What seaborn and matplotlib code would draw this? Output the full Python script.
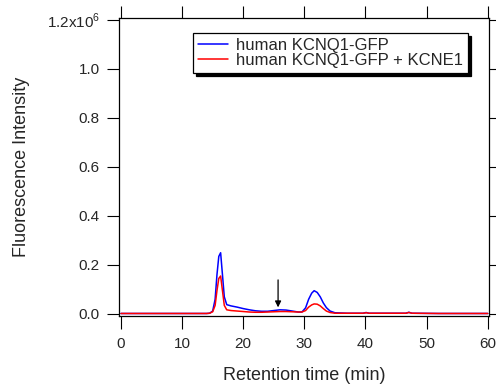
import pandas as pd
import matplotlib
matplotlib.use("Agg")
import matplotlib.pyplot as plt
import seaborn as sns

# retention time (min) and fluorescence (x1e6)
time_min = [0, 5, 10, 13, 14, 14.5, 15.0, 15.4, 15.7, 16.0, 16.3, 16.6, 16.9, 17.3,
            18, 19, 20, 21, 22, 23, 24, 25, 26, 27, 28, 29, 29.6, 30.2,
            30.7, 31.2, 31.6, 32.1, 32.6, 33.1, 33.6, 34.2, 35, 37, 39.6, 40.1,
            40.6, 46.6, 47.1, 47.6, 52, 56, 60]
kcnq1 = [0.002, 0.002, 0.002, 0.002, 0.002, 0.003, 0.012, 0.06, 0.16, 0.235, 0.25, 0.16,
         0.07, 0.038, 0.033, 0.028, 0.022, 0.017, 0.013, 0.011, 0.011, 0.014, 0.017,
         0.016, 0.012, 0.008, 0.008, 0.025, 0.06, 0.085, 0.095, 0.088, 0.07, 0.045,
         0.026, 0.012, 0.005, 0.003, 0.003, 0.006, 0.003, 0.003, 0.007, 0.003,
         0.002, 0.002, 0.002]
kcnq1_kcne1 = [0.002, 0.002, 0.002, 0.002, 0.002, 0.003, 0.009, 0.035, 0.095, 0.145, 0.155,
               0.095, 0.035, 0.017, 0.014, 0.012, 0.010, 0.008, 0.007, 0.007, 0.008, 0.009,
               0.010, 0.010, 0.009, 0.008, 0.008, 0.014, 0.028, 0.037, 0.041, 0.040, 0.033,
               0.022, 0.012, 0.006, 0.003, 0.003, 0.003, 0.005, 0.003, 0.003, 0.006,
               0.003, 0.002, 0.002, 0.002]
labels = ["human KCNQ1-GFP", "human KCNQ1-GFP + KCNE1"]
y_ticks = [0.0, 0.2, 0.4, 0.6, 0.8, 1.0, 1.2]
y_ticklabels = ["0.0", "0.2", "0.4", "0.6", "0.8", "1.0", r"1.2x10$^6$"]
x_ticks = [0, 10, 20, 30, 40, 50, 60]
arrow_at = 25.7

df = pd.concat([
    pd.DataFrame({"t": time_min, "y": [v * 1e6 for v in kcnq1], "sample": labels[0]}),
    pd.DataFrame({"t": time_min, "y": [v * 1e6 for v in kcnq1_kcne1], "sample": labels[1]}),
], ignore_index=True)

sns.set_style("ticks")
plt.rcParams["font.family"] = ["Liberation Sans", "DejaVu Sans"]
plt.rcParams["mathtext.fontset"] = "custom"
plt.rcParams["mathtext.rm"] = "Liberation Sans"

fig = plt.figure(figsize=(4.96, 3.87), dpi=100)
ax = fig.add_axes([0.2405, 0.1835, 0.7454, 0.770])

sns.lineplot(data=df, x="t", y="y", hue="sample", palette=["#0000ff", "#ff0000"],
             linewidth=1.1, ax=ax, estimator=None, sort=False)

ax.set_xlim(-0.28, 60.21)
ax.set_ylim(-0.0082e6, 1.2082e6)
ax.set_xticks(x_ticks)
ax.set_yticks([v * 1e6 for v in y_ticks])
ax.set_yticklabels(y_ticklabels)

for s in ax.spines.values():
    s.set_visible(True)
    s.set_linewidth(0.9)
    s.set_color("black")
ax.tick_params(direction="out", length=9, width=0.8, labelsize=11, color="black",
               top=True, right=True, labeltop=False, labelright=False)
ax.tick_params(axis="y", pad=5)
ax.tick_params(axis="x", pad=6)

ax.set_xlabel("Retention time (min)", fontsize=13, labelpad=12)
ax.set_ylabel("Fluorescence Intensity", fontsize=13, labelpad=12)

ax.annotate("", xy=(arrow_at, 0.027e6), xytext=(arrow_at, 0.139e6),
            arrowprops=dict(arrowstyle="-|>", color="black", lw=0.9,
                            mutation_scale=9, shrinkA=0, shrinkB=0))

leg = ax.legend(loc="upper left", bbox_to_anchor=(0.199, 0.949), borderaxespad=0,
                fontsize=12, frameon=True, fancybox=False, edgecolor="black",
                framealpha=1, handlelength=1.8, handletextpad=0.5, labelspacing=0.0,
                borderpad=0.3, shadow={"color": "black", "alpha": 1})
leg.get_frame().set_linewidth(0.9)

fig.savefig("out.png", dpi=100)
